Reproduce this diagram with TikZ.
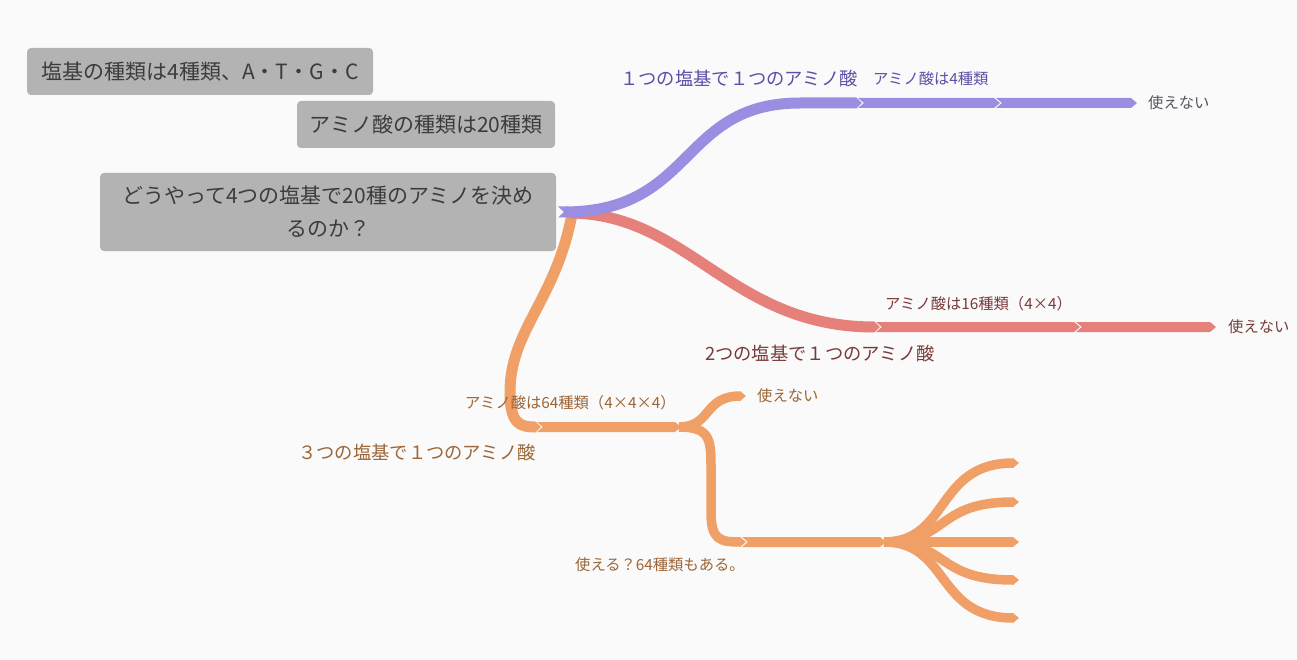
\documentclass[tikz,border=0pt]{standalone}
\usepackage{fontspec}
\newfontfamily\jp{Noto Sans CJK JP}
\usetikzlibrary{arrows.meta}
\definecolor{bgc}{HTML}{FAFAFA}
\definecolor{boxgray}{HTML}{B3B3B3}
\definecolor{boxtext}{HTML}{3C3C3C}
\definecolor{purp}{HTML}{9A8EE3}
\definecolor{purptext}{HTML}{5A50A6}
\definecolor{redl}{HTML}{E5807B}
\definecolor{redtext}{HTML}{7A3A3A}
\definecolor{orl}{HTML}{F0A066}
\definecolor{ortext}{HTML}{9C6638}
\definecolor{endtext}{HTML}{555566}
\newcommand\chev[3]{\fill[#3] ([xshift=-4pt,yshift=-5pt]#1) -- ([xshift=-6pt,yshift=-5pt]#2) -- (#2) -- ([xshift=-6pt,yshift=5pt]#2) -- ([xshift=-4pt,yshift=5pt]#1) -- ([xshift=2pt]#1) -- cycle;}
\begin{document}
\begin{tikzpicture}[x=1pt,y=-1pt,
  box/.style={fill=boxgray, rounded corners=4pt, text=boxtext, font=\jp\fontsize{21}{33}\selectfont, inner sep=0pt, align=center},
  lbl/.style={anchor=west, inner sep=0pt, font=\jp\fontsize{15.3}{18}\selectfont},
  big/.style={anchor=west, inner sep=0pt, font=\jp\fontsize{18.3}{22}\selectfont},
  br/.style={line width=11pt, line cap=butt, -{Triangle[length=6pt,width=11pt]}},
  fk/.style={line width=9.5pt, line cap=butt, -{Triangle[length=6pt,width=9.5pt]}}]
\useasboundingbox (0,0) rectangle (1297,660);
\fill[bgc] (0,0) rectangle (1297,660);

% boxes
\node[box, minimum width=346pt, minimum height=47pt] (b1) at (200,71.5) {塩基の種類は4種類、A・T・G・C};
\node[box, minimum width=258pt, minimum height=47pt] (b2) at (426,124.5) {アミノ酸の種類は20種類};
\node[box, minimum width=456pt, minimum height=78pt] (b3) at (328,212) {どうやって4つの塩基で20種のアミノを決め\\るのか？};

% coordinates
\coordinate (root) at (566,212);
\coordinate (p1) at (862,103);
\coordinate (p2) at (1000,103);
\coordinate (p3) at (1137,103);
\coordinate (r1) at (880,327);
\coordinate (r2) at (1080,327);
\coordinate (r3) at (1216,327);
\coordinate (o1) at (541,427);
\coordinate (o2) at (681,427);
\coordinate (ou) at (746,396);
\coordinate (o3) at (746,542);
\coordinate (o4) at (886,542);
\coordinate (f1) at (1019,463);
\coordinate (f2) at (1019,502);
\coordinate (f3) at (1019,542);
\coordinate (f4) at (1019,580);
\coordinate (f5) at (1019,618);

% orange branch
\draw[br, orl] (572,214) .. controls (556,300) and (510,330) .. (510,392) .. controls (510,424) and (520,427) .. (o1);
\chev{o1}{o2}{orl}
\draw[fk, orl] ([xshift=-2pt]o2) .. controls (712,427) and (703,396) .. (ou);
\draw[fk, orl] ([xshift=-2pt]o2) .. controls (711,427) and (711,440) .. (711,470) -- (711,512) .. controls (711,540) and (720,542) .. (o3);
\chev{o3}{o4}{orl}
\foreach \f in {f1,f2,f3,f4,f5}{
  \draw[fk, orl] ([xshift=-2pt]o4) .. controls (950,542) and ([xshift=-84pt]\f) .. (\f);
}

% red branch
\draw[br, redl] (570,213) .. controls (690,214) and (730,327) .. (r1);
\chev{r1}{r2}{redl}
\chev{r2}{r3}{redl}

% purple branch
\draw[br, purp] (root) .. controls (695,211) and (680,103) .. (800,103) -- (p1);
\fill[purp] (558,206.5) -- (568,206.5) -- (568,217.5) -- (558,217.5) -- (564,212) -- cycle;
\chev{p1}{p2}{purp}
\chev{p2}{p3}{purp}

% labels
\node[big, text=purptext] (l1) at (620,79) {１つの塩基で１つのアミノ酸};
\node[lbl, text=purptext] (l1b) at (873,79) {アミノ酸は4種類};
\node[lbl, text=endtext] (e1) at (1148,103) {使えない};

\node[lbl, text=redtext] (l2b) at (885,304) {アミノ酸は16種類（4×4）};
\node[lbl, text=redtext] (e2) at (1228,327) {使えない};
\node[big, text=redtext] (l2) at (705,354) {2つの塩基で１つのアミノ酸};

\node[lbl, text=ortext] (l3b) at (465,403) {アミノ酸は64種類（4×4×4）};
\node[big, text=ortext] (l3) at (298,453) {３つの塩基で１つのアミノ酸};
\node[lbl, text=ortext] (e3) at (757,396) {使えない};
\node[lbl, text=ortext] (l4) at (575,565) {使える？64種類もある。};
\end{tikzpicture}
\end{document}
